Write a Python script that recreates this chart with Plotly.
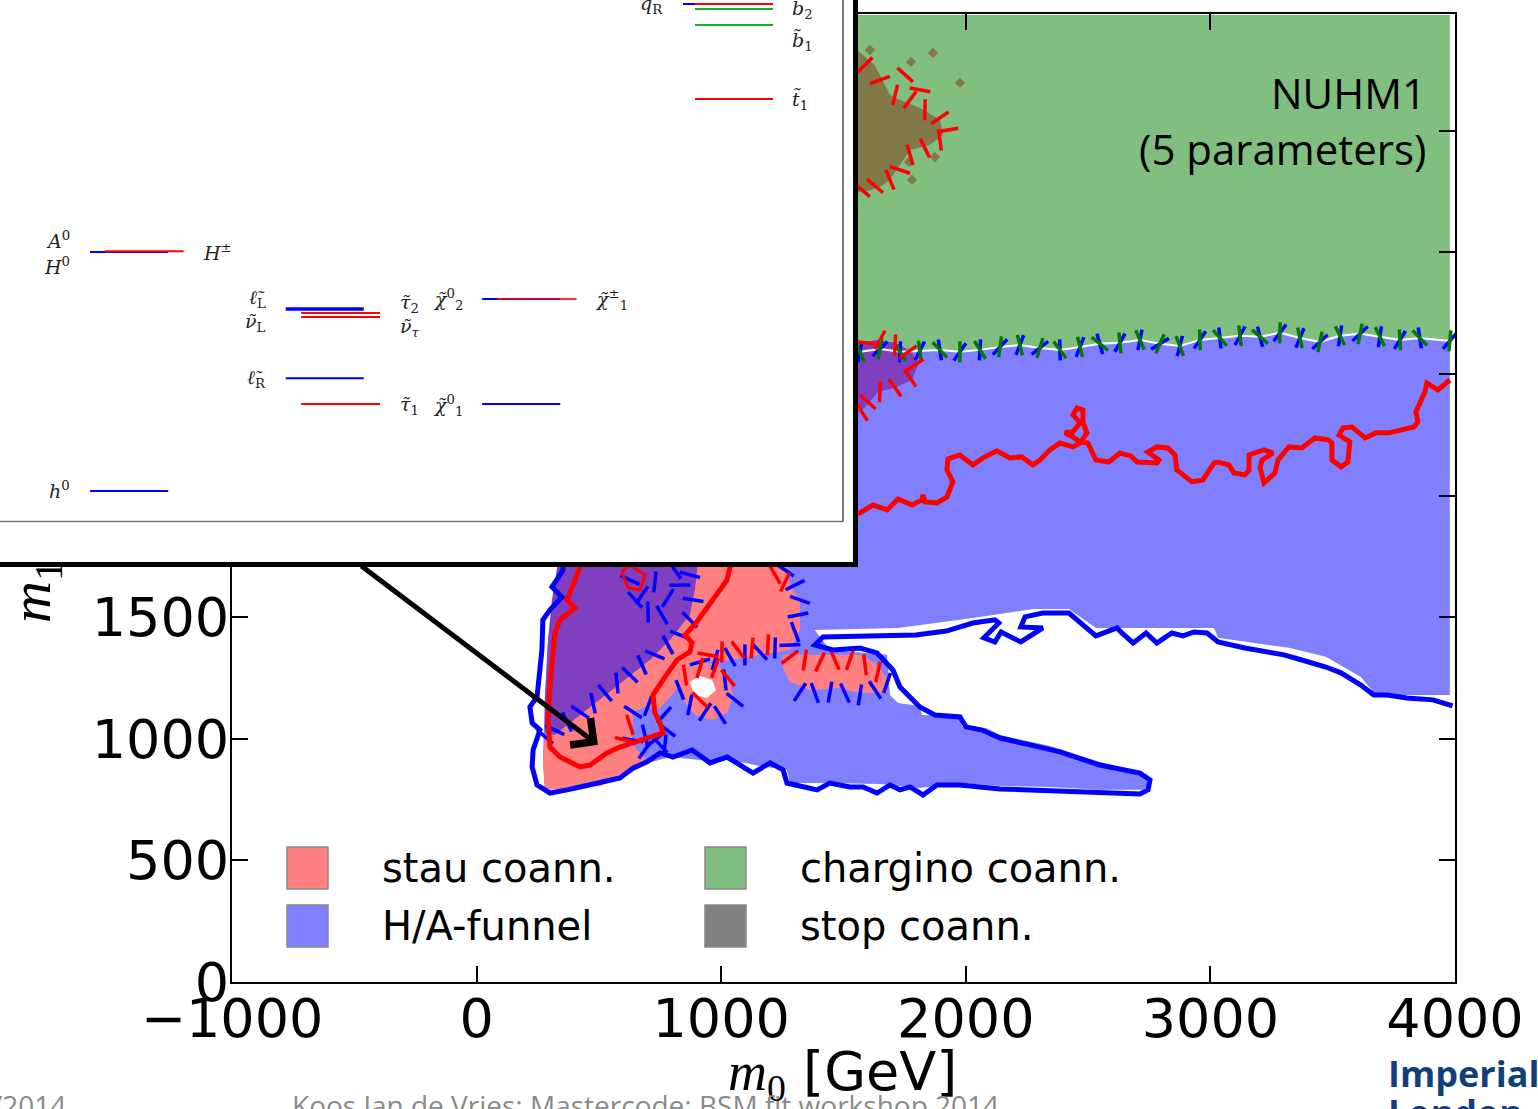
import numpy as np
import plotly.graph_objects as go

W, H = 1538, 1109

# ---------------- main panel: m0 (x) vs m1/2 (y), GeV ----------------
x_ticks = [-1000, 0, 1000, 2000, 3000, 4000]
y_ticks = [0, 500, 1000, 1500, 2000, 2500, 3000, 3500]

# border between chargino coann. (above) and H/A funnel (below)
border_x = [341, 913, 1567, 1649, 1731, 1812, 1894, 1976, 2058, 2140, 2221, 2303, 2385, 2467, 2548, 2630,
            2712, 2794, 2875, 2957, 3039, 3121, 3203, 3284, 3366, 3448, 3530, 3612, 3693, 3775, 3856, 3979]
border_y = [2599, 2591, 2591, 2603, 2591, 2595, 2599, 2591, 2599, 2611, 2619, 2607, 2599, 2611, 2624, 2628,
            2640, 2624, 2615, 2640, 2648, 2657, 2653, 2669, 2648, 2632, 2657, 2665, 2653, 2640, 2648, 2636]
region_top = 3976
region_right = 3979

# lower edge of the H/A funnel region (right -> left, then up the left side)
funnel_lo_x = [3979, 3677, 3615, 3472, 3321, 3031, 3015, 2532, 2422, 2279, 2029, 1723, 1383, 1444, 1678,
               1690, 1723, 1812, 1821, 1976, 1985, 2082, 2140, 2344, 2548, 2712, 2753, 2733, 2548, 2344,
               2140, 1976, 1812, 1649, 1444, 1281, 1269, 1158, 1036, 913, 791, 668, 545, 423, 279, 271,
               279, 292, 308, 341, 374, 361]
funnel_lo_y = [1180, 1180, 1254, 1337, 1374, 1415, 1456, 1456, 1534, 1534, 1497, 1456, 1447, 1365, 1345,
               1180, 1147, 1135, 1098, 1094, 1049, 1044, 1016, 970, 905, 859, 822, 790, 790, 802,
               806, 818, 798, 814, 818, 818, 872, 888, 913, 913, 925, 892, 831, 802, 790, 913,
               1160, 1406, 1530, 1612, 1715, 2188]

# stau coann. + funnel overlap
overlap_x = [344, 913, 893, 872, 791, 709, 607, 505, 423, 320, 279, 279, 292, 308]
overlap_y = [1800, 1800, 1612, 1509, 1406, 1324, 1242, 1160, 1098, 1016, 1028, 1160, 1406, 1571]
overlap2_x = [1404, 1559, 1629, 1711, 1780, 1805, 1780, 1711, 1641, 1608, 1576, 1404]
overlap2_y = [2619, 2619, 2640, 2628, 2591, 2537, 2475, 2443, 2426, 2385, 2352, 2352]

# stau coann. patches
stau1_x = [913, 1248, 1281, 1322, 1322, 1281, 1158, 1036, 934, 872, 799, 750, 689, 635, 635, 689, 668,
           586, 505, 279, 271, 279, 320, 423, 505, 607, 709, 791, 872, 893]
stau1_y = [1800, 1800, 1632, 1571, 1447, 1365, 1345, 1324, 1316, 1275, 1180, 1127, 1110, 1057, 975, 921,
           880, 839, 806, 790, 913, 1016, 1016, 1098, 1160, 1242, 1324, 1406, 1509, 1612]
funnel_isle_x = [639, 701, 766, 778, 750, 688, 639]
funnel_isle_y = [1110, 1135, 1098, 1036, 975, 954, 995]
stau2_x = [1253, 1567, 1629, 1678, 1678, 1567, 1485, 1363, 1281, 1253]
stau2_y = [1345, 1345, 1312, 1250, 1188, 1188, 1209, 1201, 1234, 1291]
stau3_x = [844, 913, 975, 1028, 1048, 1028, 963, 893, 844, 831]
stau3_y = [1291, 1312, 1308, 1262, 1180, 1110, 1077, 1098, 1160, 1221]
stau3_hole_x = [872, 913, 963, 979, 942, 889]
stau3_hole_y = [1234, 1259, 1242, 1201, 1168, 1180]

# stop coann. (on top of chargino coann.)
stop_x = [1404, 1559, 1629, 1690, 1731, 1812, 1894, 1907, 1853, 1772, 1731, 1690, 1649, 1588, 1404]
stop_y = [3809, 3829, 3768, 3647, 3627, 3594, 3545, 3483, 3442, 3421, 3360, 3298, 3269, 3248, 3248]
stop_dots_x = [1776, 1866, 1976, 1874, 1768, 1608, 1780]
stop_dots_y = [3783, 3820, 3697, 3392, 3372, 3832, 3298]

# red (68% CL) contour
red_x = [3979, 3930, 3885, 3877, 3840, 3848, 3832, 3730, 3677, 3633, 3579, 3542, 3526, 3570, 3562, 3534,
         3497, 3497, 3481, 3427, 3374, 3321, 3276, 3264, 3219, 3203, 3211, 3256, 3219, 3158, 3158, 3141,
         3096, 3076, 3031, 3015, 2969, 2925, 2863, 2855, 2826, 2781, 2744, 2790, 2781, 2700, 2675, 2630,
         2585, 2532, 2499, 2467, 2438, 2405, 2438, 2467, 2438, 2455, 2479, 2479, 2495, 2467, 2438, 2385,
         2344, 2303, 2274, 2229, 2180, 2127, 2070, 2029, 1976, 1927, 1923, 1947, 1923, 1882, 1833, 1825,
         1821, 1780, 1723, 1678, 1621, 1567, 1404, 1158, 1056, 1036, 1024, 995, 942, 897, 852, 881, 872,
         819, 762, 721, 729, 750, 762, 668, 586, 533, 464, 423, 341, 300, 292, 300, 312, 320, 341, 402,
         370, 390, 423, 443, 505, 709, 1158, 1506]
red_y = [2475, 2434, 2463, 2426, 2344, 2303, 2282, 2258, 2258, 2237, 2282, 2278, 2249, 2221, 2138, 2118,
         2146, 2216, 2229, 2237, 2196, 2200, 2146, 2093, 2052, 2114, 2146, 2175, 2188, 2167, 2105, 2085,
         2093, 2126, 2138, 2134, 2064, 2056, 2105, 2167, 2196, 2200, 2179, 2146, 2134, 2138, 2163, 2175,
         2138, 2146, 2216, 2221, 2241, 2258, 2262, 2299, 2332, 2360, 2352, 2303, 2258, 2216, 2200, 2216,
         2188, 2146, 2126, 2159, 2155, 2184, 2155, 2126, 2167, 2151, 2105, 2056, 1994, 1970, 1974, 2003,
         1982, 1961, 1986, 1941, 1961, 1929, 1859, 1797, 1735, 1706, 1653, 1612, 1542, 1476, 1427, 1394, 1357,
         1324, 1242, 1180, 1106, 1065, 1024, 995, 966, 942, 892, 884, 925, 966, 1077, 1213, 1353, 1435, 1489, 1538,
         1571, 1624, 1706, 1817, 2188, 3010, 3154, 3133]
red_small_x = [594, 627, 689, 668, 619, 594]
red_small_y = [1686, 1715, 1674, 1612, 1620, 1686]

# blue (95% CL) contour
blue_x = [3990, 3910, 3803, 3722, 3668, 3615, 3534, 3472, 3374, 3301, 3141, 3031, 2986, 2933, 2888, 2843,
          2818, 2781, 2737, 2684, 2638, 2618, 2532, 2422, 2315, 2242, 2225, 2315, 2225, 2144, 2119, 2074,
          2135, 2119, 2029, 1920, 1796, 1616, 1526, 1416, 1383, 1457, 1567, 1637, 1702, 1731, 1812, 1874,
          1976, 2001, 2067, 2140, 2262, 2385, 2548, 2712, 2753, 2745, 2712, 2589, 2467, 2344, 2140, 1976,
          1882, 1825, 1772, 1731, 1690, 1637, 1580, 1526, 1444, 1392, 1334, 1269, 1253, 1200, 1130, 1077,
          1024, 954, 881, 803, 750, 697, 640, 586, 505, 423, 370, 300, 247, 227, 231, 259, 227, 218, 247,
          267, 271, 300, 349, 308, 333, 353, 361, 341, 505, 1322]
blue_y = [1135, 1160, 1168, 1180, 1180, 1221, 1271, 1295, 1324, 1345, 1373, 1398, 1435, 1439, 1423, 1435,
          1419, 1394, 1435, 1394, 1435, 1456, 1423, 1517, 1517, 1501, 1460, 1456, 1398, 1439, 1398, 1415,
          1476, 1489, 1476, 1443, 1427, 1423, 1419, 1419, 1386, 1365, 1373, 1353, 1283, 1213, 1131, 1098,
          1090, 1049, 1036, 1003, 975, 946, 892, 859, 831, 790, 773, 777, 781, 790, 794, 810,
          810, 769, 802, 790, 810, 777, 802, 802, 818, 790, 802, 818, 872, 901, 859, 892,
          925, 901, 954, 925, 942, 905, 880, 839, 818, 802, 790, 777, 810, 884, 954, 1036, 1065, 1131, 1172,
          1365, 1489, 1530, 1583, 1624, 1661, 1694, 1817, 2393, 3216, 3627]

# contour hatching marks (positions)
hatch_blue_x = [885, 872, 831, 782, 729, 676, 627, 574, 525, 476, 423, 370, 320, 280,
                627, 676, 729, 782, 831, 758, 701, 648, 811, 872,
                913, 975, 1036, 1097, 1158, 1220, 1281,
                1261, 1302, 1322, 1314, 1302,
                639, 701, 766, 778, 750, 688, 639,
                831, 872, 934, 995, 1056, 1015,
                1322, 1383, 1445, 1506, 1567, 1629, 1678,
                688, 729, 770]
hatch_blue_y = [1571, 1489, 1427, 1386, 1345, 1304, 1262, 1229, 1188, 1147, 1110, 1069, 1036, 1008,
                1653, 1591, 1645, 1579, 1632, 1509, 1521, 1571, 1694, 1674,
                1316, 1324, 1336, 1345, 1357, 1373, 1386,
                1694, 1632, 1571, 1509, 1439,
                1110, 1135, 1098, 1036, 975, 954, 995,
                1201, 1139, 1110, 1098, 1160, 1242,
                1192, 1188, 1192, 1188, 1180, 1201, 1229,
                1016, 995, 975]
hatch_red_x = [1588, 1649, 1711, 1772, 1833, 1894, 1927, 1894, 1833, 1772, 1731, 1690, 1629, 1575, 1813, 1752,
               1588, 1649, 1711, 1764, 1792, 1772, 1711, 1649, 1600, 1575,
               946, 1003, 1069, 1126, 1191,
               1281, 1342, 1404, 1465, 1526, 1588, 1641,
               852, 913, 975, 1028, 913,
               627, 607, 1220, 1261]
hatch_red_y = [3771, 3709, 3647, 3627, 3586, 3553, 3503, 3462, 3429, 3401, 3339, 3298, 3273, 3257, 3668, 3730,
               2628, 2640, 2619, 2591, 2537, 2484, 2443, 2426, 2385, 2344,
               1345, 1357, 1365, 1373, 1386,
               1336, 1324, 1316, 1324, 1324, 1304, 1275,
               1262, 1291, 1291, 1250, 1160,
               1057, 995, 1674, 1645]

# arrow: from the inset to the highlighted best-fit point
arrow_head = (496, 975)
arrow_tail = (-477, 1715)

legend_names = ["stau coann.", "H/A-funnel", "chargino coann.", "stop coann."]
legend_colors = ["#ff8080", "#8080ff", "#80bf80", "#808080"]

# ---------------- inset: mass spectrum (GeV) ----------------
lvl_mass = [126, 1282, 1286, 1006, 987, 967, 672, 547, 1054, 1054, 547, 2481, 2481, 2456, 2379, 2021]
lvl_x0 = [1.05, 1.05, 1.22, 3.33, 3.51, 3.51, 3.33, 3.51, 5.62, 5.80, 5.62, 7.96, 8.10, 8.10, 8.10, 8.10]
lvl_x1 = [1.96, 1.96, 2.14, 4.24, 4.43, 4.43, 4.24, 4.43, 6.53, 6.72, 6.53, 8.88, 9.01, 9.01, 9.01, 9.01]
lvl_color = ["#0000ff", "#0000ff", "#ff0000", "#0000ff", "#ff0000", "#ff0000", "#0000ff", "#ff0000",
             "#0000ff", "rgba(255,0,0,0.8)", "#0000ff", "#0000ff", "#ff0000", "#10b030", "#10b030", "#ff0000"]
lvl_width = [2, 2, 2, 3.5, 2, 2, 2, 2, 2, 2, 2, 2, 2, 2, 2, 2]

lab_text = ["<i>A</i><sup>0</sup>", "<i>H</i><sup>0</sup>", "<i>H</i><sup>±</sup>", "<i>h</i><sup>0</sup>",
            "<i>ℓ̃</i><sub>L</sub>", "<i>ν̃</i><sub>L</sub>", "<i>ℓ̃</i><sub>R</sub>",
            "<i>τ̃</i><sub>2</sub>", "<i>ν̃</i><sub><i>τ</i></sub>", "<i>τ̃</i><sub>1</sub>",
            "<i>χ̃</i><sup>0</sup><sub>2</sub>", "<i>χ̃</i><sup>0</sup><sub>1</sub>", "<i>χ̃</i><sup>±</sup><sub>1</sub>",
            "<i>q̃</i><sub>R</sub>", "<i>b̃</i><sub>2</sub>", "<i>b̃</i><sub>1</sub>", "<i>t̃</i><sub>1</sub>"]
lab_x = [0.84, 0.84, 2.34, 0.84, 3.12, 3.12, 3.12, 4.64, 4.64, 4.64, 5.42, 5.42, 6.91, 7.75, 9.21, 9.21, 9.21]
lab_y = [1340, 1214, 1282, 131, 1059, 943, 672, 1035, 919, 542, 1054, 542, 1054, 2476, 2452, 2297, 2016]
lab_anchor = ["right", "right", "left", "right", "right", "right", "right", "left", "left", "left",
              "right", "right", "left", "right", "left", "left", "left"]

# ---------------- figure ----------------
fig = go.Figure()


def poly(xs, ys, color, **kw):
    fig.add_trace(go.Scatter(x=list(xs) + [xs[0]], y=list(ys) + [ys[0]], mode="lines", fill="toself",
                             fillcolor=color, line=dict(width=0, color=color), hoverinfo="skip",
                             showlegend=False, **kw))


green_x = border_x + [region_right, border_x[0]]
green_y = border_y + [region_top, region_top]
poly(green_x, green_y, "#80bf80")
poly(border_x + funnel_lo_x, border_y + funnel_lo_y, "#8080ff")
poly(overlap_x, overlap_y, "#7f3fbf")
poly(stau1_x, stau1_y, "#ff8080")
poly(funnel_isle_x, funnel_isle_y, "#8080ff")
poly(stau2_x, stau2_y, "#ff8080")
poly(stau3_x, stau3_y, "#ff8080")
poly(stau3_hole_x, stau3_hole_y, "#ffffff")
poly(stop_x, stop_y, "#817a48")
poly(overlap2_x, overlap2_y, "#7f3fbf")
fig.add_trace(go.Scatter(x=stop_dots_x, y=stop_dots_y, mode="markers",
                         marker=dict(symbol="diamond", size=8, color="#817a48"), showlegend=False))
fig.add_trace(go.Scatter(x=border_x[2:], y=border_y[2:], mode="lines",
                         line=dict(color="white", width=2), showlegend=False))


def angles(xs, ys, shift):
    xs = np.asarray(xs, float)
    ys = np.asarray(ys, float)
    dx = np.gradient(xs) * 0.2446
    dy = -np.gradient(ys) * 0.2432
    base = np.degrees(np.arctan2(dy, dx))
    jit = np.array([0, 25, -20, 10, -30, 15, -10, 30])
    return (base + shift + jit[np.arange(len(xs)) % len(jit)]).tolist()


def hatch(xs, ys, color, shift=0, size=15, width=3.5):
    fig.add_trace(go.Scatter(x=xs, y=ys, mode="markers", showlegend=False, hoverinfo="skip",
                             marker=dict(symbol="line-ns", size=size, angle=angles(xs, ys, shift),
                                         line=dict(color=color, width=width))))


hatch(border_x[2:], border_y[2:], "#0000ff", shift=20)
hatch(border_x[2:], border_y[2:], "#007a00", shift=-15)
hatch(hatch_blue_x, hatch_blue_y, "#0000ff")
hatch(hatch_red_x, hatch_red_y, "#ff0000")

fig.add_trace(go.Scatter(x=blue_x, y=blue_y, mode="lines", line=dict(color="#0000ff", width=5),
                         showlegend=False))
fig.add_trace(go.Scatter(x=red_x, y=red_y, mode="lines", line=dict(color="#ff0000", width=5),
                         showlegend=False))
fig.add_trace(go.Scatter(x=red_small_x, y=red_small_y, mode="lines", line=dict(color="#ff0000", width=3),
                         showlegend=False))

# inset spectrum
for m, a, b, c, w in zip(lvl_mass, lvl_x0, lvl_x1, lvl_color, lvl_width):
    fig.add_trace(go.Scatter(x=[a, b], y=[m, m], mode="lines", line=dict(color=c, width=w),
                             xaxis="x2", yaxis="y2", showlegend=False, hoverinfo="skip"))

annotations = []
for t, x, y, an in zip(lab_text, lab_x, lab_y, lab_anchor):
    annotations.append(dict(text=t, x=x, y=y, xref="x2", yref="y2", xanchor=an, yanchor="middle",
                            showarrow=False, font=dict(family="DejaVu Serif", size=19, color="#222")))


def px(xp):
    return xp / W


def py(yp):
    return 1 - yp / H


# legend (drawn by hand, 2x2)
shapes = []
leg_pos = [(287, 847), (287, 905), (705, 847), (705, 905)]
for (lx, ly), name, col in zip(leg_pos, legend_names, legend_colors):
    shapes.append(dict(type="rect", xref="paper", yref="paper", x0=px(lx), x1=px(lx + 41),
                       y0=py(ly + 42), y1=py(ly), fillcolor=col, line=dict(color="#888", width=1.5),
                       layer="above"))
    annotations.append(dict(text=name, x=px(lx + 93), y=py(ly + 21), xref="paper", yref="paper",
                            xanchor="left", yanchor="middle", showarrow=False,
                            font=dict(family="DejaVu Sans", size=40, color="black")))

# inset frame
shapes.append(dict(type="rect", xref="paper", yref="paper", x0=-0.01, x1=px(855.5), y0=py(564.5), y1=1.01,
                   line=dict(color="black", width=5), layer="above"))
shapes.append(dict(type="line", xref="paper", yref="paper", x0=0, x1=px(843), y0=py(521.5), y1=py(521.5),
                   line=dict(color="#777", width=1.5), layer="above"))
shapes.append(dict(type="line", xref="paper", yref="paper", x0=px(843), x1=px(843), y0=py(521.5), y1=1.0,
                   line=dict(color="#222", width=1.2), layer="above"))

annotations += [
    dict(text="", x=arrow_head[0], y=arrow_head[1], ax=arrow_tail[0], ay=arrow_tail[1],
         xref="x", yref="y", axref="x", ayref="y", showarrow=True, arrowhead=4, arrowsize=1.3,
         arrowwidth=5, arrowcolor="black"),
    dict(text="NUHM1", x=px(1428), y=py(93), xref="paper", yref="paper", xanchor="right",
         yanchor="middle", showarrow=False, font=dict(family="Open Sans", size=42, color="black")),
    dict(text="(5 parameters)", x=px(1428), y=py(148), xref="paper", yref="paper", xanchor="right",
         yanchor="middle", showarrow=False, font=dict(family="Open Sans", size=42, color="black")),
    dict(text='<span style="font-family:Liberation Serif"><i>m</i><sub>0</sub></span> [GeV]',
         x=px(843), y=py(1074), xref="paper", yref="paper", xanchor="center", yanchor="middle",
         showarrow=False, font=dict(family="DejaVu Sans", size=54, color="black")),
    dict(text="<i>m</i><sub>1</sub>", x=px(34), y=py(592), xref="paper", yref="paper", textangle=-90,
         xanchor="center", yanchor="middle", showarrow=False,
         font=dict(family="Liberation Serif", size=58, color="black")),
    dict(text="/2014", x=px(68), y=py(1084), xref="paper", yref="paper", xanchor="right", yanchor="top",
         showarrow=False, font=dict(family="Open Sans", size=28, color="#8a8a8a")),
    dict(text="Koos Jan de Vries: Mastercode: BSM fit workshop 2014", x=px(290), y=py(1084),
         xref="paper", yref="paper", xanchor="left", yanchor="top", showarrow=False,
         font=dict(family="Open Sans", size=28, color="#8a8a8a")),
    dict(text="<b>Imperial College</b>", x=px(1386), y=py(1073), xref="paper", yref="paper",
         xanchor="left", yanchor="middle", showarrow=False,
         font=dict(family="Open Sans", size=36, color="#123f7a")),
    dict(text="<b>London</b>", x=px(1386), y=py(1086), xref="paper", yref="paper",
         xanchor="left", yanchor="top", showarrow=False,
         font=dict(family="Open Sans", size=36, color="#123f7a")),
]

axis_common = dict(showgrid=False, zeroline=False, showline=True, linecolor="black", linewidth=2,
                   mirror="ticks", ticks="inside", ticklen=16, tickwidth=1.5, tickcolor="black",
                   automargin=False,
                   tickfont=dict(family="DejaVu Sans", size=54, color="black"))

fig.update_layout(
    width=W, height=H, autosize=False, margin=dict(l=0, r=0, t=0, b=0, pad=0, autoexpand=False),
    paper_bgcolor="white", plot_bgcolor="white", showlegend=False,
    xaxis=dict(domain=[px(232), px(1455)], range=[-1000, 4000], tickvals=x_ticks, ticklabelstandoff=-12,
               **axis_common),
    yaxis=dict(domain=[py(982), py(14)], range=[0, 3980], tickvals=y_ticks, ticklabelstandoff=-10,
               **axis_common),
    xaxis2=dict(domain=[0, px(858)], range=[0, 10], showgrid=False, zeroline=False, showline=False,
                showticklabels=False, ticks="", anchor="y2", fixedrange=True, automargin=False),
    yaxis2=dict(domain=[py(567), 1], range=[-241, 2500], showgrid=False, zeroline=False, showline=False,
                showticklabels=False, ticks="", anchor="x2", fixedrange=True, automargin=False),
    shapes=shapes, annotations=annotations,
)

fig.write_html("out.html")
